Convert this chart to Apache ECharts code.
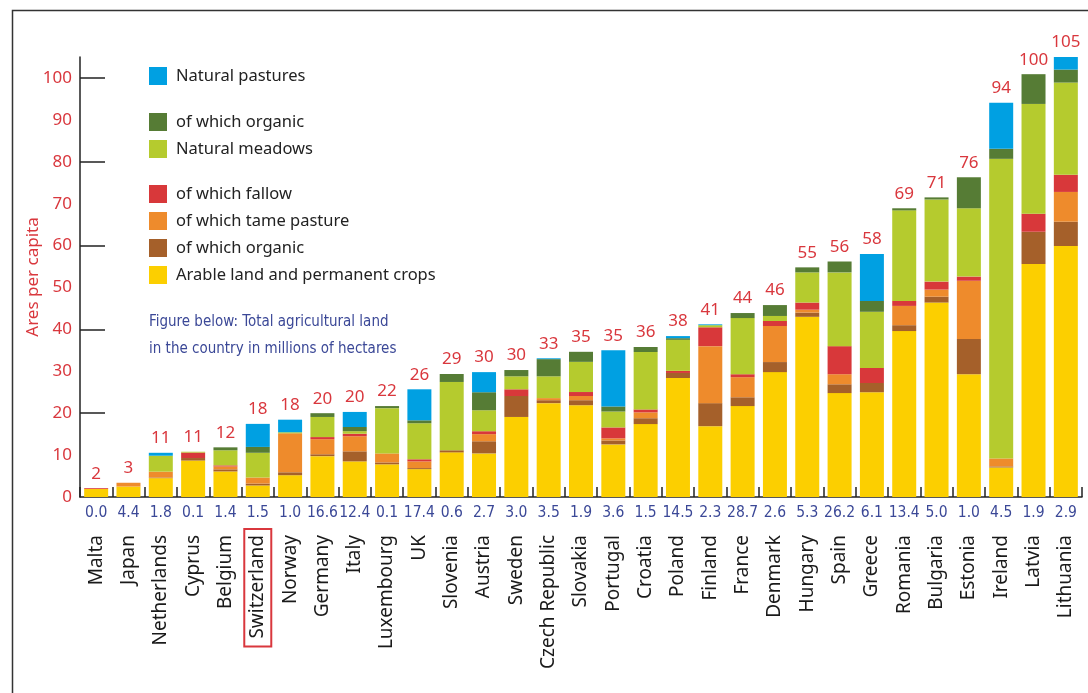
<!DOCTYPE html>
<html>
<head>
<meta charset="utf-8">
<title>Ares per capita</title>
<script src="https://cdn.jsdelivr.net/npm/echarts@6/dist/echarts.min.js"></script>
<style>
  html, body { margin: 0; padding: 0; background: #fff; }
  #ares_charts { width: 1088px; height: 693px; }
</style>
</head>
<body>
<div id="ares_charts"></div>
<script>
// countries, and total agricultural land in millions of hectares (shown under the axis)
var countries = ['Malta', 'Japan', 'Netherlands', 'Cyprus', 'Belgium', 'Switzerland', 'Norway', 'Germany', 'Italy', 'Luxembourg', 'UK', 'Slovenia', 'Austria', 'Sweden', 'Czech Republic', 'Slovakia', 'Portugal', 'Croatia', 'Poland', 'Finland', 'France', 'Denmark', 'Hungary', 'Spain', 'Greece', 'Romania', 'Bulgaria', 'Estonia', 'Ireland', 'Latvia', 'Lithuania']
var hectares = ['0.0', '4.4', '1.8', '0.1', '1.4', '1.5', '1.0', '16.6', '12.4', '0.1', '17.4', '0.6', '2.7', '3.0', '3.5', '1.9', '3.6', '1.5', '14.5', '2.3', '28.7', '2.6', '5.3', '26.2', '6.1', '13.4', '5.0', '1.0', '4.5', '1.9', '2.9']
// printed totals above the bars
var totals = [2, 3, 11, 11, 12, 18, 18, 20, 20, 22, 26, 29, 30, 30, 33, 35, 35, 36, 38, 41, 44, 46, 55, 56, 58, 69, 71, 76, 94, 100, 105]

// ares per capita, stacked from bottom to top
var arable = [1.9, 2.5, 4.5, 8.7, 6.1, 2.75, 5.2, 9.75, 8.5, 7.8, 6.65, 10.65, 10.4, 19.1, 22.4, 21.9, 12.55, 17.4, 28.4, 16.9, 21.7, 29.8, 43.0, 24.8, 25.0, 39.6, 46.4, 29.3, 7.05, 55.6, 59.9]
var arableOrganic = [0, 0, 0.15, 0.6, 0.5, 0.45, 0.7, 0.45, 2.4, 0.45, 0.25, 0.5, 2.9, 5.0, 0.7, 1.2, 0.95, 1.4, 1.2, 5.5, 2.1, 2.4, 1.0, 2.1, 2.2, 1.4, 1.4, 8.4, 0.25, 7.7, 5.8]
var tamePasture = [0, 0.9, 1.4, 0, 0.7, 1.45, 9.3, 3.6, 3.6, 2.15, 1.6, 0, 1.7, 0, 0.5, 1.0, 0.5, 1.4, 0, 13.6, 4.8, 8.6, 0.7, 2.4, 0, 4.6, 1.7, 13.9, 1.9, 0, 7.1]
var fallow = [0.2, 0, 0, 1.3, 0.25, 0, 0, 0.5, 0.6, 0, 0.5, 0, 0.7, 1.6, 0, 0.95, 2.6, 0.7, 0.5, 4.5, 0.7, 1.2, 1.7, 6.7, 3.6, 1.2, 1.9, 1.0, 0, 4.3, 4.1]
var meadows = [0, 0, 3.8, 0.2, 3.6, 5.9, 0.25, 4.8, 0.6, 10.8, 8.6, 16.3, 5.0, 3.1, 5.2, 7.2, 3.8, 13.7, 7.4, 0.5, 13.4, 1.2, 7.2, 17.6, 13.4, 21.6, 19.6, 16.3, 71.5, 26.2, 22.0]
var meadowOrganic = [0, 0, 0, 0, 0.7, 1.4, 0, 0.9, 1.0, 0.5, 0.7, 1.9, 4.3, 1.5, 4.1, 2.4, 1.2, 1.2, 0.4, 0, 1.2, 2.6, 1.2, 2.6, 2.6, 0.5, 0.5, 7.4, 2.4, 7.1, 3.1]
var pastures = [0, 0, 0.7, 0, 0, 5.5, 3.0, 0, 3.6, 0, 7.4, 0, 4.8, 0, 0.2, 0, 13.4, 0, 0.5, 0.2, 0, 0, 0, 0, 11.2, 0, 0, 0, 11.0, 0, 3.6]

var yLabels = [0, 10, 20, 30, 40, 50, 60, 70, 80, 90, 100]
var yTicks = [20, 40, 60, 80, 100]

var legendNames = {
  pastures: 'Natural pastures',
  meadowOrganic: 'of which organic',
  meadows: 'Natural meadows',
  fallow: 'of which fallow',
  tame: 'of which tame pasture',
  arableOrganic: 'of which organic',
  arable: 'Arable land and permanent crops',
}

var FONT = '"Noto Sans", "Open Sans", sans-serif'
var NARROW = '"Liberation Sans Narrow", "DejaVu Sans Condensed", "Noto Sans", sans-serif'
var RED = '#d9373d'
var NAVY = '#3b4897'

function barSeries (name, data, color) {
  return {
    name: name,
    type: 'bar',
    stack: 'land',
    barWidth: 24,
    itemStyle: { color: color },
    data: data,
  }
}

// top of the stack carries the printed total
var pastureSeries = barSeries('pastures', pastures, '#00a0e2')
pastureSeries.label = {
  show: true,
  position: 'top',
  distance: 6,
  color: RED,
  fontSize: 17,
  fontFamily: FONT,
  formatter: function (p) { return totals[p.dataIndex] },
}

function legendBlock (names, topPx) {
  return {
    data: names,
    orient: 'vertical',
    left: 149,
    top: topPx,
    padding: 0,
    itemGap: 9,
    itemWidth: 18,
    itemHeight: 18,
    icon: 'rect',
    selectedMode: false,
    formatter: function (n) { return legendNames[n] },
    textStyle: { color: '#222', fontSize: 16.5, fontFamily: FONT, padding: [0, 0, 0, 4] },
  }
}

var option = {
  animation: false,
  backgroundColor: '#fff',
  textStyle: { fontFamily: FONT },
  grid: { left: 80, right: 6, top: 57, bottom: 196 },
  legend: [
    legendBlock(['pastures'], 67),
    legendBlock(['meadowOrganic', 'meadows'], 113),
    legendBlock(['fallow', 'tame', 'arableOrganic', 'arable'], 185),
  ],
  graphic: [
    {
      type: 'rect',
      left: 10,
      top: 8,
      shape: { width: 1100, height: 700 },
      style: { fill: 'none', stroke: '#333', lineWidth: 1.5 },
      silent: true,
    },
    {
      type: 'text',
      left: 149,
      top: 309,
      style: {
        text: 'Figure below: Total agricultural land\nin the country in millions of hectares',
        fill: NAVY,
        font: '15px ' + NARROW,
        lineHeight: 27,
      },
    },
  ],
  xAxis: [
    {
      type: 'category',
      data: countries,
      axisLine: { lineStyle: { color: '#222', width: 1.5 } },
      axisTick: { show: true, inside: true, length: 10, lineStyle: { color: '#222', width: 1.5 } },
      axisLabel: {
        interval: 0,
        hideOverlap: false,
        margin: 8,
        color: NAVY,
        fontSize: 15.5,
        fontFamily: NARROW,
        formatter: function (v, i) { return hectares[i] },
      },
    },
    {
      type: 'category',
      data: countries,
      position: 'bottom',
      axisLine: { show: false },
      axisTick: { show: false },
      axisLabel: {
        interval: 0,
        rotate: 90,
        margin: 32,
        color: '#1a1a1a',
        fontSize: 19,
        fontFamily: FONT,
        // every name gets the same end padding so Switzerland's box can reach closer to the axis
        formatter: function (v) { return v === 'Switzerland' ? '{box|' + v + '}' : '{n|' + v + '}' },
        rich: {
          n: {
            fontSize: 19,
            fontFamily: FONT,
            color: '#1a1a1a',
            padding: [0, 6, 0, 0],
          },
          box: {
            fontSize: 19,
            fontFamily: FONT,
            color: '#1a1a1a',
            borderColor: '#d9373d',
            borderWidth: 2,
            padding: [4, 6, 4, 8],
          },
        },
      },
    },
  ],
  yAxis: {
    type: 'value',
    min: 0,
    max: 105,
    interval: 10,
    name: 'Ares per capita',
    nameLocation: 'middle',
    nameGap: 38,
    nameMoveOverlap: false,
    nameTextStyle: { color: RED, fontSize: 17, fontFamily: FONT },
    splitLine: { show: false },
    axisLine: { show: true, lineStyle: { color: '#222', width: 1.5 } },
    axisTick: {
      show: true,
      inside: true,
      length: 25,
      customValues: yTicks,
      lineStyle: { color: '#222', width: 1.5 },
    },
    axisLabel: {
      color: RED,
      fontSize: 17,
      fontFamily: FONT,
      margin: 8,
      customValues: yLabels,
    },
  },
  series: [
    barSeries('arable', arable, '#fccf00'),
    barSeries('arableOrganic', arableOrganic, '#a5602a'),
    barSeries('tame', tamePasture, '#ee8b2c'),
    barSeries('fallow', fallow, '#d8383a'),
    barSeries('meadows', meadows, '#b5cb2e'),
    barSeries('meadowOrganic', meadowOrganic, '#567c35'),
    pastureSeries,
  ],
}

var myChart = echarts.init(document.getElementById('ares_charts'))
myChart.setOption(option)
window.onresize = myChart.resize
</script>
</body>
</html>
